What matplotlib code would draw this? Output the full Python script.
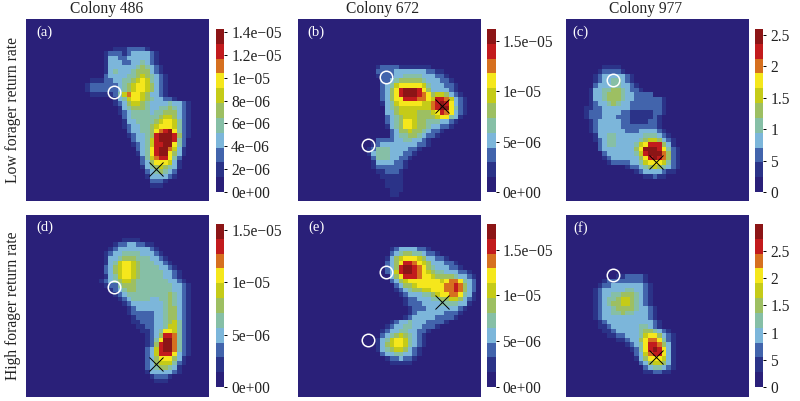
import numpy as np
import matplotlib
matplotlib.use('Agg')
from matplotlib import pyplot as plt
from matplotlib.colors import ListedColormap, BoundaryNorm

plt.rcParams['font.family'] = ['Liberation Serif', 'DejaVu Serif']

W, H = 800, 401
N = 40

colors = ['#2a2079', '#2b3388', '#4264ac', '#7cb6da', '#86bfa6', '#9dbf62',
          '#c5cb18', '#f5e71c', '#d6701f', '#c21b1d', '#8c1516']

titles = ['Colony 486', 'Colony 672', 'Colony 977']
row_labels = ['Low forager return rate', 'High forager return rate']
letters = ['(a)', '(b)', '(c)', '(d)', '(e)', '(f)']

# cell levels, row: (first column, level per cell), A = 10
panel_a = {6: (19, "11122221"), 7: (17, "122212333321"), 8: (17, "133223333321"),
           9: (17, "133322334321"), 10: (17, "1333333454321"), 11: (17, "1343334555321"),
           12: (17, "23333445654321"), 13: (14, "11122334456764321"),
           14: (13, "122222234567765321"), 15: (13, "122222234567765321"),
           16: (14, "11111246877653321"), 17: (19, "13467765433221"),
           18: (19, "12356654333343321"), 19: (20, "1345554334454321"),
           20: (20, "1234444344555321"), 21: (21, "234444445665321"),
           22: (21, "133444456776421"), 23: (21, "123344567776421"),
           24: (22, "233445789A7421"), 25: (22, "1233459AAA9521"),
           26: (23, "233469AAA942"), 27: (23, "1234699AA742"),
           28: (24, "23479AA8631"), 29: (24, "13479AA7531"), 30: (25, "246899742"),
           31: (25, "235777631"), 32: (25, "134565431"), 33: (26, "2345432"),
           34: (26, "1333321"), 35: (27, "2221"), 36: (27, "111")}

panel_b = {10: (17, "122221111111"), 11: (17, "222233333332211"),
           12: (17, "1222334444333221"), 13: (18, "2234555554333221"),
           14: (18, "23467777764333221"), 15: (18, "23579AAA975333321"),
           16: (18, "23579AAA9875665321"), 17: (18, "2357799988769986321"),
           18: (18, "1346777776689A97321"), 19: (19, "345666666689AA7421"),
           20: (19, "335666655567987321"), 21: (19, "23456665555677431"),
           22: (19, "2345776554443321"), 23: (19, "134577655433221"),
           24: (20, "235565543221"), 25: (20, "23445543221"), 26: (17, "222233443321"),
           27: (16, "1233333333221"), 28: (15, "124443333221"), 29: (15, "13444333221"),
           30: (16, "244433221"), 31: (16, "13333221"), 32: (16, "12222221"),
           33: (17, "112221"), 34: (18, "11111"), 35: (19, "1111"), 36: (19, "1111"),
           37: (20, "111"), 38: (20, "11")}

panel_c = {10: (8, "1111"), 11: (7, "122221"), 12: (6, "123333321"), 13: (6, "123344321"),
           14: (6, "2333443321"), 15: (5, "133445543221"), 16: (5, "13345554332222"),
           17: (5, "13345554332222221"), 18: (5, "12334543322222221"),
           19: (4, "112233333322222221"), 20: (4, "122233332211111221"),
           21: (4, "12223332221111121"), 22: (5, "1233333221111221"),
           23: (5, "1233333222222221"), 24: (5, "12333333222333321"),
           25: (6, "13344333333444321"), 26: (6, "123443333345665321"),
           27: (7, "23443333467999531"), 28: (7, "233333335 7AAA97421"),
           29: (8, "23333334 69AAA8521"), 30: (8, "12333333579A98521"),
           31: (9, "1222233467776421"), 32: (13, "122345654321"), 33: (15, "123333211"),
           34: (17, "11211")}

panel_d = {5: (21, "1111"), 6: (19, "122332211"), 7: (18, "12333333321"),
           8: (17, "1233444433321"), 9: (17, "13345554443321"), 10: (17, "134677654443321"),
           11: (17, "2356776544443321"), 12: (17, "23567765444443321"),
           13: (17, "13467765444443321"), 14: (16, "1234566544444443321"),
           15: (17, "1224555444444443321"), 16: (18, "123455444444443321"),
           17: (19, "12344444444454321"), 18: (20, "1234444334454321"),
           19: (21, "123333333454321"), 20: (22, "12333333455321"),
           21: (22, "12222233455321"), 22: (23, "1222233455321"),
           23: (23, "1122233456421"), 24: (24, "112233466421"), 25: (25, "11234776421"),
           26: (26, "1235998421"), 27: (26, "1247AA8421"), 28: (26, "1259AA8421"),
           29: (26, "2369AA8421"), 30: (26, "2369997321"), 31: (26, "235777531"),
           32: (26, "235666421"), 33: (26, "23455431"), 34: (26, "13333321"),
           35: (27, "12221"), 36: (28, "111")}

panel_e = {7: (20, "123333221"), 8: (20, "23455443221"), 9: (19, "13567776533221"),
           10: (19, "2357998765333221"), 11: (19, "2359AA98754333221"),
           12: (19, "2369AA9876544333221"), 13: (20, "3579998776555543321"),
           14: (20, "235677777776788 7432"), 15: (21, "235567777778898532"),
           16: (21, "123455667778898532"), 17: (22, "12333445677887431"),
           18: (23, "1223334455665321"), 19: (23, "122233334444331"),
           20: (24, "1222333333321"), 21: (24, "123333332221"), 22: (23, "123333322221"),
           23: (20, "1233433322221"), 24: (19, "123344332221"), 25: (18, "12334433221"),
           26: (18, "2345654321"), 27: (17, "13467764321"), 28: (17, "13567764321"),
           29: (17, "1345665321"), 30: (18, "233443321"), 31: (19, "1223221"),
           32: (20, "11111")}

panel_f = {13: (11, "1122221"), 14: (8, "1222222221"), 15: (7, "122333333321"),
           16: (6, "1233333443321"), 17: (6, "1233445554321"), 18: (6, "1234456654321"),
           19: (6, "1234556654321"), 20: (6, "12334555543321"), 21: (6, "12334454433321"),
           22: (6, "12333333333321"), 23: (7, "12333333333321"), 24: (7, "11233333344321"),
           25: (8, "112333334554321"), 26: (9, "112233346775321"), 27: (11, "1123357887421"),
           28: (13, "12347998531"), 29: (14, "12479A9731"), 30: (15, "236899731"),
           31: (15, "135777631"), 32: (16, "23566531"), 33: (17, "2344321"),
           34: (17, "112211")}

panels = [panel_a, panel_b, panel_c, panel_d, panel_e, panel_f]

vmaxs = [1.427e-5, 1.62e-5, 2.595, 1.557e-5, 1.78e-5, 2.996]
ticks = [[0, 2e-6, 4e-6, 6e-6, 8e-6, 1e-5, 1.2e-5, 1.4e-5],
         [0, 5e-6, 1e-5, 1.5e-5],
         [0, 0.5, 1, 1.5, 2, 2.5],
         [0, 5e-6, 1e-5, 1.5e-5],
         [0, 5e-6, 1e-5, 1.5e-5],
         [0, 0.5, 1, 1.5, 2, 2.5]]
tick_labels = [['0e+00', '2e\u221206', '4e\u221206', '6e\u221206', '8e\u221206', '1e\u221205', '1.2e\u221205', '1.4e\u221205'],
               ['0e+00', '5e\u221206', '1e\u221205', '1.5e\u221205'],
               ['0', '5', '1', '1.5', '2', '2.5'],
               ['0e+00', '5e\u221206', '1e\u221205', '1.5e\u221205'],
               ['0e+00', '5e\u221206', '1e\u221205', '1.5e\u221205'],
               ['0', '5', '1', '1.5', '2', '2.5']]

# marker positions in grid cells (column, row from the top)
circles = [[(19.3, 15.9)], [(19.3, 12.6), (15.2, 27.6)], [(10.4, 13.3)],
           [(19.3, 15.8)], [(19.3, 12.5), (15.2, 27.5)], [(10.4, 13.2)]]
crosses = [(28.4, 32.9), (31.5, 19.0), (19.8, 31.3), (28.4, 32.7), (31.5, 19.05), (19.8, 31.3)]

# layout in pixels
col_x = [26, 298, 565.7]
row_y = [19.3, 215]
panel_w, panel_h = 183, 182
bar_x = [216, 487.3, 755]
bar_y = [29, 224]
bar_w, bar_h = 8.3, 163
title_x = [107, 382.5, 646]
row_label_y = [110, 306]
letter_x = [0.055, 0.05, 0.035, 0.055, 0.055, 0.04]
FS = 11.2


def px_axes(fig, x, y, w, h):
	return fig.add_axes([x / W, 1 - (y + h) / H, w / W, h / H])


def make_grid(rows):
	grid = np.zeros((N, N), dtype=int)
	for r, (start, levels) in rows.items():
		levels = levels.replace(' ', '')
		for i, ch in enumerate(levels):
			grid[r, start + i] = int(ch, 16)
	return grid


fig = plt.figure(figsize=(W / 100, H / 100), dpi=100)
cmap = ListedColormap(colors)

for i in range(6):
	r, c = i // 3, i % 3
	ax = px_axes(fig, col_x[c], row_y[r], panel_w, panel_h)
	vmax = vmaxs[i]
	bounds = np.linspace(0, vmax, len(colors) + 1)
	norm = BoundaryNorm(bounds, cmap.N)
	values = (make_grid(panels[i]) + 0.5) / len(colors) * vmax
	mesh = ax.pcolormesh(np.arange(N + 1), np.arange(N + 1), values, cmap=cmap, norm=norm)
	ax.set_xlim(0, N)
	ax.set_ylim(N, 0)
	ax.set_xticks([])
	ax.set_yticks([])
	for s in ax.spines.values():
		s.set_visible(False)

	for cx, cy in circles[i]:
		ax.plot(cx, cy, 'o', ms=9, mfc='none', mec='white', mew=1.1)
	ax.plot(*crosses[i], 'x', ms=9.5, color='black', mew=0.7)
	ax.text(letter_x[i], 0.93, letters[i], transform=ax.transAxes, color='white',
		fontsize=10.5, va='center', ha='left')

	cax = px_axes(fig, bar_x[c], bar_y[r], bar_w, bar_h)
	cb = fig.colorbar(mesh, cax=cax, spacing='proportional', ticks=ticks[i])
	cb.ax.minorticks_off()
	cb.set_ticklabels(tick_labels[i])
	cb.ax.tick_params(length=2.5, width=0.7, labelsize=FS, pad=2.5, labelcolor='#222222')
	cb.outline.set_visible(False)

for c in range(3):
	fig.text(title_x[c] / W, 1 - 9 / H, titles[c], fontsize=FS, color='#222222',
		ha='center', va='center')
for r in range(2):
	fig.text(13 / W, 1 - row_label_y[r] / H, row_labels[r], fontsize=FS, color='#222222',
		rotation=90, ha='center', va='center')

fig.savefig('out.png', dpi=100)
